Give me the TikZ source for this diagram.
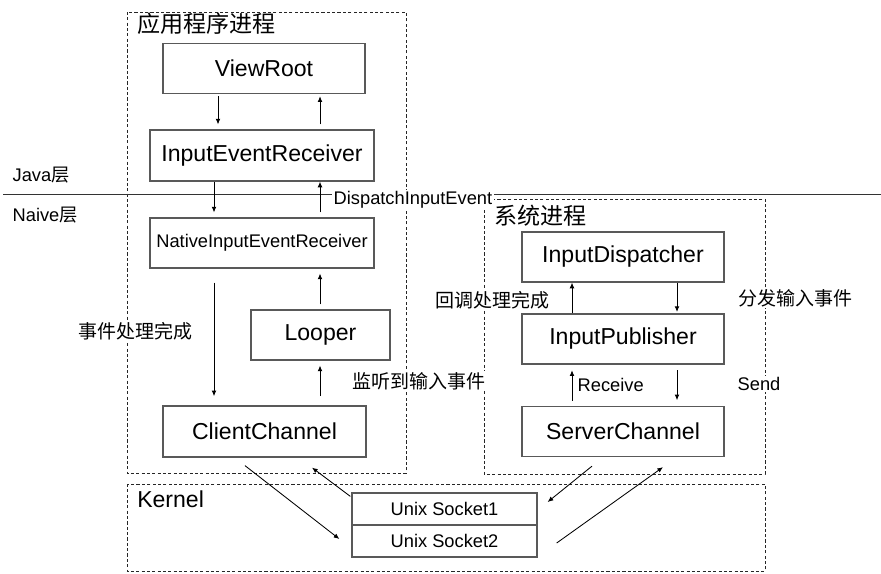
\documentclass[tikz,border=0pt]{standalone}
\usepackage{fontspec}
\setmainfont{Liberation Sans}
\newfontfamily\cjk{Noto Sans CJK SC}
\usepackage{tikz}
\usetikzlibrary{arrows.meta, calc}
\tikzstyle{bigbox} = [rectangle, minimum width=5.05cm, minimum height=1.25cm, inner sep=0pt, text centered, draw=black!65, line width=0.9pt, font=\fontsize{16.4}{19}\selectfont]
\tikzstyle{socket} = [rectangle, minimum width=4.625cm, minimum height=0.8cm, inner sep=0pt, text centered, draw=black!65, line width=0.9pt, font=\fontsize{13}{15}\selectfont]
\tikzstyle{dashframe} = [draw=black!85, dash pattern=on 2.2pt off 1.6pt]
\tikzstyle{frametitle} = [anchor=west, inner sep=0pt, font=\cjk\fontsize{16.4}{19}\selectfont]
\tikzstyle{txt} = [anchor=west, inner sep=1pt, fill=white, font=\fontsize{13}{15}\selectfont]
\tikzstyle{cntxt} = [anchor=west, inner sep=1pt, fill=white, font=\cjk\fontsize{13.5}{16}\selectfont]
\tikzstyle{arrow} = [->, >={Latex[length=4pt,width=3.4pt]}, draw=black, line width=0.6pt]

\begin{document}
\begin{tikzpicture}[x=0.025cm, y=-0.025cm]
        \useasboundingbox (0,0) rectangle (881,573);
        % Frames
        \draw [dashframe] (127,12) rectangle (406,473);
        \draw [dashframe] (484,199) rectangle (765,474);
        \draw [dashframe] (127,484) rectangle (765,571);
        \node (app_title) [frametitle] at (137,24) {应用程序进程};
        \node (sys_title) [frametitle] at (494,216) {系统进程};
        \node (kernel_title) [frametitle, font=\fontsize{16.4}{19}\selectfont] at (137,499) {Kernel};

        % Layers
        \coordinate (layer_left) at (3,194);
        \coordinate (layer_right) at (881,194);
        \draw [draw=black!80] (layer_left) -- (layer_right);
        \node (java_layer) [txt] at (11,175) {Java{\cjk 层}};
        \node (native_layer) [txt] at (11,215) {Naive{\cjk 层}};

        % Nodes
        \node (view_root) [bigbox] at (264,68.5) {ViewRoot};
        \node (input_event_receiver) [bigbox, minimum width=5.6cm, minimum height=1.275cm] at (262,155.5) {InputEventReceiver};
        \node (native_receiver) [bigbox, minimum width=5.6cm, font=\fontsize{13}{15}\selectfont] at (262,243) {NativeInputEventReceiver};
        \node (looper) [bigbox, minimum width=3.475cm] at (320.5,335) {Looper};
        \node (client_channel) [bigbox, minimum width=5.075cm, minimum height=1.275cm] at (264.5,431.5) {ClientChannel};
        \node (input_dispatcher) [bigbox] at (623,257) {InputDispatcher};
        \node (input_publisher) [bigbox] at (623,339) {InputPublisher};
        \node (server_channel) [bigbox] at (623,431.5) {ServerChannel};
        \node (unix_socket1) [socket] at (444.5,509) {Unix Socket1};
        \node (unix_socket2) [socket] at (444.5,541) {Unix Socket2};

        % Columns
        \coordinate (col_a) at (218,0);
        \coordinate (col_b) at (214,0);
        \coordinate (col_c) at (320,0);
        \coordinate (col_d) at (572,0);
        \coordinate (col_e) at (677,0);

        % Lines
        \draw [arrow, shorten <=1.5pt, shorten >=3.5pt] (view_root.south -| col_a) -- (input_event_receiver.north -| col_a);
        \draw [arrow, shorten <=3.5pt, shorten >=1.5pt] (input_event_receiver.north -| col_c) -- (view_root.south -| col_c);
        \draw [arrow, shorten >=3.5pt] (input_event_receiver.south -| col_b) -- (native_receiver.north -| col_b);
        \draw [arrow, shorten <=3.5pt] (native_receiver.north -| col_c) -- (input_event_receiver.south -| col_c);
        \draw [arrow, shorten <=10pt, shorten >=6.5pt] (native_receiver.south -| col_b) -- (client_channel.north -| col_b);
        \draw [arrow, shorten <=3.5pt, shorten >=3.5pt] (looper.north -| col_c) -- (native_receiver.south -| col_c);
        \draw [arrow, shorten <=6.5pt, shorten >=3.5pt] (client_channel.north -| col_c) -- (looper.south -| col_c);
        \draw [arrow] (input_publisher.north -| col_d) -- (input_dispatcher.south -| col_d);
        \draw [arrow, shorten >=1pt] (input_dispatcher.south -| col_e) -- (input_publisher.north -| col_e);
        \draw [arrow, shorten <=3.5pt, shorten >=4pt] (server_channel.north -| col_d) -- (input_publisher.south -| col_d);
        \draw [arrow, shorten <=4pt, shorten >=4pt] (input_publisher.south -| col_e) -- (server_channel.north -| col_e);

        % Socket lines
        \draw [arrow] ($(client_channel.south)+(-19.5,8)$) -- ($(unix_socket2.west)+(-12,-2)$);
        \draw [arrow] ($(unix_socket1.north west)+(-1,4)$) -- ($(client_channel.south)+(47.5,10)$);
        \draw [arrow] ($(server_channel.south)+(-31,9)$) -- ($(unix_socket1.east)+(10,-7)$);
        \draw [arrow] ($(unix_socket2.east)+(19,2)$) -- ($(server_channel.south)+(40,10)$);

        % Labels
        \node (dispatch_label) [txt] at (332,200) {DispatchInputEvent};
        \node (done_label) [cntxt] at (77,331) {事件处理完成};
        \node (listen_label) [cntxt] at (351,381) {监听到输入事件};
        \node (callback_label) [cntxt] at (434,300) {回调处理完成};
        \node (dispatch_cn_label) [cntxt] at (737,298) {分发输入事件};
        \node (receive_label) [txt] at (576,385) {Receive};
        \node (send_label) [txt] at (736,384) {Send};
    \end{tikzpicture}
\end{document}
